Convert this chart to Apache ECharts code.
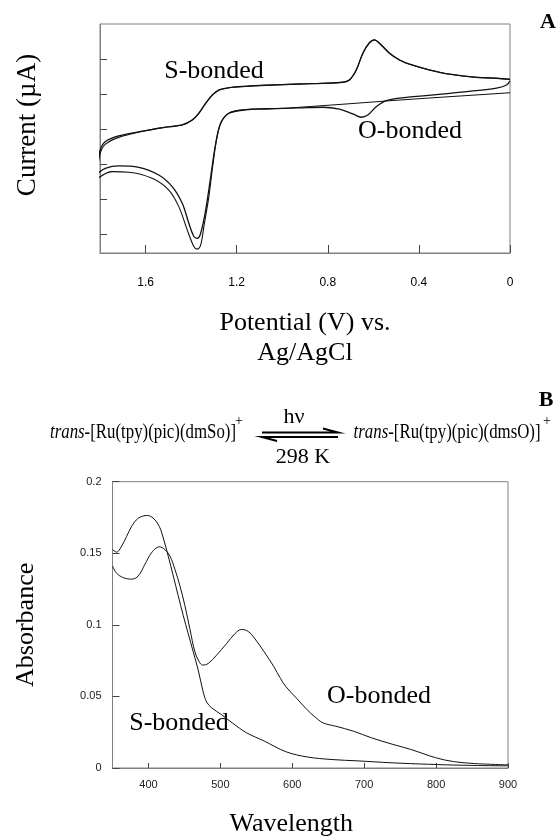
<!DOCTYPE html>
<html>
<head>
<meta charset="utf-8">
<script src="https://cdn.jsdelivr.net/npm/echarts@6.0.0/dist/echarts.min.js"></script>
<style>
  html, body { margin: 0; background: #fff; }
  #chart { width: 560px; height: 840px; }
</style>
</head>
<body>
<div id="chart"></div>
<script>
// A: cyclic voltammogram, potential (V vs Ag/AgCl) and current (arbitrary units, no labels)
const cvAnodicV = [0, 0.059, 0.147, 0.264, 0.352, 0.441, 0.485, 0.529, 0.573, 0.595, 0.617, 0.646, 0.675, 0.705, 0.734, 0.822, 0.925, 1.072, 1.160, 1.233, 1.277, 1.307, 1.336, 1.366, 1.395, 1.439, 1.512, 1.600, 1.718, 1.777, 1.799, 1.809];
const cvAnodicI = [4.84, 4.90, 4.95, 5.13, 5.37, 5.70, 5.94, 6.33, 6.90, 7.09, 6.93, 6.33, 5.37, 4.80, 4.67, 4.61, 4.57, 4.50, 4.44, 4.36, 4.23, 3.94, 3.47, 2.90, 2.51, 2.23, 2.10, 1.90, 1.60, 1.27, 0.80, -0.15];
// second scan: the anodic branch splits a little near the switching potential
const cvAnodic2V = [1.718, 1.777, 1.799, 1.809];
const cvAnodic2I = [1.52, 1.12, 0.60, -0.35];

const cvCathodic1V = [1.809, 1.777, 1.718, 1.630, 1.542, 1.483, 1.439, 1.410, 1.388, 1.373, 1.358, 1.336, 1.314, 1.292, 1.270, 1.233, 1.160, 1.072, 0.925, 0.822, 0.749, 0.690, 0.653, 0.624, 0.587, 0.543, 0.455, 0.382, 0.264, 0.147, 0.059, 0.015, 0];
const cvCathodic1I = [-0.53, -0.25, -0.11, -0.19, -0.63, -1.30, -2.25, -3.39, -4.15, -4.25, -3.96, -2.63, -0.73, 1.18, 2.33, 2.90, 3.09, 3.14, 3.20, 3.24, 3.13, 2.86, 2.67, 2.80, 3.27, 3.62, 3.81, 3.89, 4.04, 4.19, 4.33, 4.51, 4.76];
const cvCathodic2V = [1.809, 1.747, 1.674, 1.571, 1.498, 1.454, 1.417, 1.388, 1.373, 1.358, 1.344, 1.322, 1.306, 1.288, 1.268, 1.233, 1.160, 1.072, 0.970, 0.500, 0];
const cvCathodic2I = [-0.82, -0.44, -0.47, -0.82, -1.49, -2.44, -3.77, -4.72, -4.87, -4.63, -3.58, -1.87, -0.20, 1.40, 2.40, 2.92, 3.11, 3.16, 3.20, 3.64, 4.07];

const cvXTicks = [0, 0.4, 0.8, 1.2, 1.6];
const cvYTicks = [-4, -2, 0, 2, 4, 6];

// B: absorption spectra
const wlS = [350, 355.8, 362.7, 369.7, 376.6, 385.9, 398.4, 406.7, 415, 420.6, 427.5, 434.5, 441.4, 448.4, 455.3, 462.3, 469.2, 476.2, 481, 488, 501.7, 516.6, 536.4, 561.2, 591, 620.7, 655.4, 690, 739.8, 789.4, 839, 900];
const absS = [0.1526, 0.1508, 0.155, 0.1618, 0.1688, 0.1745, 0.1764, 0.1745, 0.1688, 0.1607, 0.148, 0.1342, 0.1203, 0.1065, 0.0938, 0.0811, 0.0684, 0.0530, 0.0460, 0.0420, 0.0372, 0.0315, 0.0246, 0.0188, 0.0114, 0.0077, 0.0059, 0.005, 0.0036, 0.0026, 0.0019, 0.0015];
const wlO = [350, 355.8, 365, 376.6, 385.9, 395, 404.2, 415, 422.9, 429.9, 436.8, 443.8, 450.7, 457.6, 464.6, 470.6, 475.2, 483.1, 494.7, 508.6, 520.1, 529.4, 538.7, 548, 561, 574.5, 583.5, 591, 605.8, 620.7, 630.6, 643, 660.4, 685.2, 710, 739.8, 764.6, 799.3, 824.1, 853.8, 900];
const absO = [0.1411, 0.136, 0.133, 0.1319, 0.1342, 0.1422, 0.1503, 0.1545, 0.1526, 0.148, 0.1388, 0.1272, 0.1134, 0.0972, 0.0811, 0.0742, 0.0719, 0.073, 0.0788, 0.0869, 0.0938, 0.0968, 0.0954, 0.0903, 0.0811, 0.0707, 0.0626, 0.0569, 0.0488, 0.0407, 0.0361, 0.0315, 0.0292, 0.0257, 0.0211, 0.0165, 0.013, 0.0072, 0.0045, 0.0031, 0.0022];

const wlTicks = [400, 500, 600, 700, 800, 900];
const absTicks = [0, 0.05, 0.1, 0.15, 0.2];

const zip = (xs, ys) => xs.map((x, i) => [x, ys[i]]);

// cycle 1: anodic branch + cathodic branch with the O-bonded wave
const cycle1 = zip(cvAnodicV, cvAnodicI).concat(zip(cvCathodic1V, cvCathodic1I));
// cycle 2: same anodic branch, split end, outer cathodic branch
const cycle2 = zip(cvAnodicV, cvAnodicI)
    .filter((p) => p[0] < 1.7)
    .concat(zip(cvAnodic2V, cvAnodic2I), zip(cvCathodic2V, cvCathodic2I));

const serif = 'Liberation Serif';
const sans = 'Liberation Sans';
const frame = '#808080';

const chart = echarts.init(document.getElementById('chart'), null, { renderer: 'canvas' });

const lineSeries = (data, xi, width) => ({
    type: 'line',
    xAxisIndex: xi,
    yAxisIndex: xi,
    data: data,
    showSymbol: false,
    smooth: 0.35,
    clip: true,
    lineStyle: { color: '#111', width: width },
    animation: false
});

const txt = (x, y, text, size, extra) => ({
    type: 'text',
    x: x,
    y: y,
    style: Object.assign({
        text: text,
        fontFamily: serif,
        fontSize: size,
        fill: '#000',
        align: 'center',
        verticalAlign: 'middle'
    }, extra || {})
});

const option = {
    backgroundColor: '#fff',
    grid: [
        { left: 100, right: 50, top: 24, bottom: 587, show: true, borderColor: frame, borderWidth: 1 },
        { left: 112.5, right: 52, top: 481.7, bottom: 69.5, show: true, borderColor: frame, borderWidth: 1 }
    ],
    xAxis: [
        {
            type: 'value', gridIndex: 0, min: 0, max: 1.8, inverse: true,
            interval: 0.4,
            position: 'bottom',
            axisLine: { show: true, onZero: false, lineStyle: { color: frame } },
            axisTick: { inside: true, length: 8, lineStyle: { color: '#444' }, customValues: cvXTicks },
            axisLabel: {
                customValues: cvXTicks, margin: 24, fontFamily: sans, fontSize: 12, color: '#000',
                formatter: (v) => String(v)
            },
            splitLine: { show: false },
            name: 'Potential (V) vs.\nAg/AgCl',
            nameLocation: 'middle',
            nameGap: 55,
            nameTextStyle: { fontFamily: serif, fontSize: 26, lineHeight: 30, color: '#000' }
        },
        {
            type: 'value', gridIndex: 1, min: 350, max: 900,
            axisLine: { show: true, onZero: false, lineStyle: { color: frame } },
            axisTick: { inside: true, length: 5, lineStyle: { color: '#444' }, customValues: wlTicks },
            axisLabel: { customValues: wlTicks, margin: 11, fontFamily: sans, fontSize: 11, color: '#222' },
            splitLine: { show: false },
            name: 'Wavelength',
            nameLocation: 'middle',
            nameGap: 41,
            nameTextStyle: { fontFamily: serif, fontSize: 26, lineHeight: 30, color: '#000', padding: [0, 38, 0, 0] }
        }
    ],
    yAxis: [
        {
            type: 'value', gridIndex: 0, min: -5.09, max: 8,
            position: 'left',
            axisLine: { show: true, onZero: false, lineStyle: { color: frame } },
            axisTick: { inside: true, length: 7, lineStyle: { color: '#444' }, customValues: cvYTicks },
            axisLabel: { show: false },
            splitLine: { show: false },
            name: 'Current (µA)',
            nameLocation: 'middle',
            nameGap: 59,
            nameTextStyle: { fontFamily: serif, fontSize: 27, color: '#000', padding: [0, 0, 0, 27] }
        },
        {
            type: 'value', gridIndex: 1, min: 0, max: 0.2,
            position: 'left',
            axisLine: { show: true, onZero: false, lineStyle: { color: frame } },
            axisTick: { inside: true, length: 7, lineStyle: { color: '#444' }, customValues: absTicks },
            axisLabel: { customValues: absTicks, margin: 11, fontFamily: sans, fontSize: 11, color: '#222' },
            splitLine: { show: false },
            name: 'Absorbance',
            nameLocation: 'middle',
            nameGap: 73,
            nameTextStyle: { fontFamily: serif, fontSize: 26, color: '#000' }
        }
    ],
    series: [
        lineSeries(cycle1, 0, 1.3),
        lineSeries(cycle2, 0, 1.1),
        lineSeries(zip(wlS, absS), 1, 1),
        lineSeries(zip(wlO, absO), 1, 1)
    ],
    graphic: [
        txt(548, 22, 'A', 22, { fontWeight: 'bold' }),
        txt(546, 400, 'B', 22, { fontWeight: 'bold' }),
        txt(214, 71, 'S-bonded', 26),
        txt(410, 131, 'O-bonded', 26),
        txt(179, 723, 'S-bonded', 26),
        txt(379, 696, 'O-bonded', 26),
        // photo-isomerisation scheme
        {
            type: 'text', x: 50, y: 432, scaleX: 0.765,
            style: {
                text: '{it|trans}-[Ru(tpy)(pic)(dmSo)]',
                fontFamily: serif, fontSize: 22, fill: '#000', align: 'left', verticalAlign: 'middle',
                rich: { it: { fontFamily: serif, fontSize: 22, fontStyle: 'italic' } }
            }
        },
        {
            type: 'text', x: 353.6, y: 432, scaleX: 0.765,
            style: {
                text: '{it|trans}-[Ru(tpy)(pic)(dmsO)]',
                fontFamily: serif, fontSize: 22, fill: '#000', align: 'left', verticalAlign: 'middle',
                rich: { it: { fontFamily: serif, fontSize: 22, fontStyle: 'italic' } }
            }
        },
        txt(239, 421, '+', 14),
        txt(547, 421, '+', 14),
        txt(294, 417, 'hν', 22),
        txt(303, 457, '298 K', 22),
        { type: 'polyline', shape: { points: [[262, 432.5], [338, 432.5], [323, 428.5]] }, style: { stroke: '#000', lineWidth: 2, fill: null } },
        { type: 'polyline', shape: { points: [[277, 441], [262, 437], [338, 437]] }, style: { stroke: '#000', lineWidth: 2, fill: null } }
    ]
};

chart.setOption(option);
</script>
</body>
</html>
